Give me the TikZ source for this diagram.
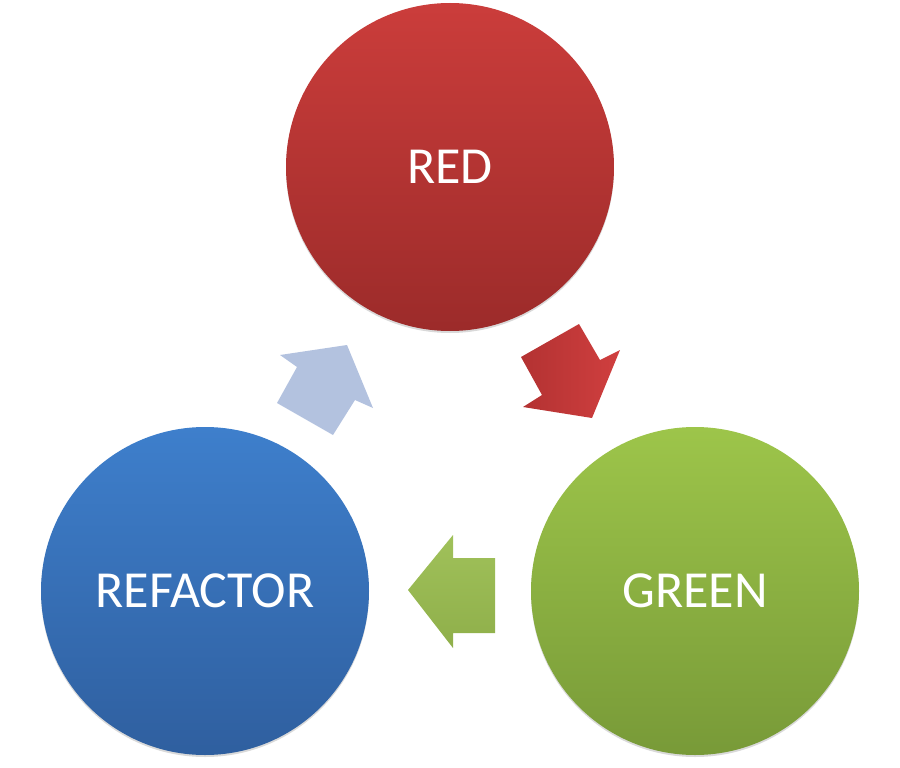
\documentclass[tikz,border=0pt]{standalone}
\usepackage{fontspec}
\setmainfont{Carlito}
\usetikzlibrary{shadows}
\definecolor{redtop}{HTML}{CB3D3B}
\definecolor{redbot}{HTML}{9C2B2A}
\definecolor{greentop}{HTML}{9DC54A}
\definecolor{greenbot}{HTML}{789A38}
\definecolor{bluetop}{HTML}{3E7FCC}
\definecolor{bluebot}{HTML}{2F5F9F}
\definecolor{redarrowA}{HTML}{B33232}
\definecolor{redarrowB}{HTML}{D03F3F}
\definecolor{greenarrowA}{HTML}{A0C15A}
\definecolor{greenarrowB}{HTML}{8FAF4A}
\definecolor{bluearrow}{HTML}{B3C2DF}
\tikzset{
  phase/.style={circle, minimum size=328pt, inner sep=0pt, text=white,
    font=\fontsize{52}{62}\selectfont,
    drop shadow={shadow xshift=0pt, shadow yshift=-2pt, opacity=0.15, fill=black}},
  blockarrow/.style={draw=none}
}
\begin{document}
\begin{tikzpicture}[x=1pt,y=-1pt]
\useasboundingbox (0,0) rectangle (900,768);
\node[phase, top color=redtop, bottom color=redbot] (red) at (450,167) {RED};
\node[phase, top color=greentop, bottom color=greenbot] (green) at (695,591) {GREEN};
\node[phase, top color=bluetop, bottom color=bluebot] (refactor) at (205,591) {REFACTOR};
% red arrow: RED -> GREEN
\path[blockarrow, left color=redarrowA, right color=redarrowB]
  (521,357) -- (579,324) -- (600,360) -- (620,350) -- (592,418) -- (523,407) -- (542,395) -- cycle;
% green arrow: GREEN -> REFACTOR
\path[blockarrow, top color=greenarrowA, bottom color=greenarrowB]
  (495,558) -- (453,558) -- (453,535) -- (408,590) -- (453,648) -- (453,633) -- (495,633) -- cycle;
% blue arrow: REFACTOR -> RED
\path[blockarrow, fill=bluearrow]
  (333,435) -- (277,403) -- (297,367) -- (280,355) -- (347,345) -- (373,408) -- (355,400) -- cycle;
\end{tikzpicture}
\end{document}
